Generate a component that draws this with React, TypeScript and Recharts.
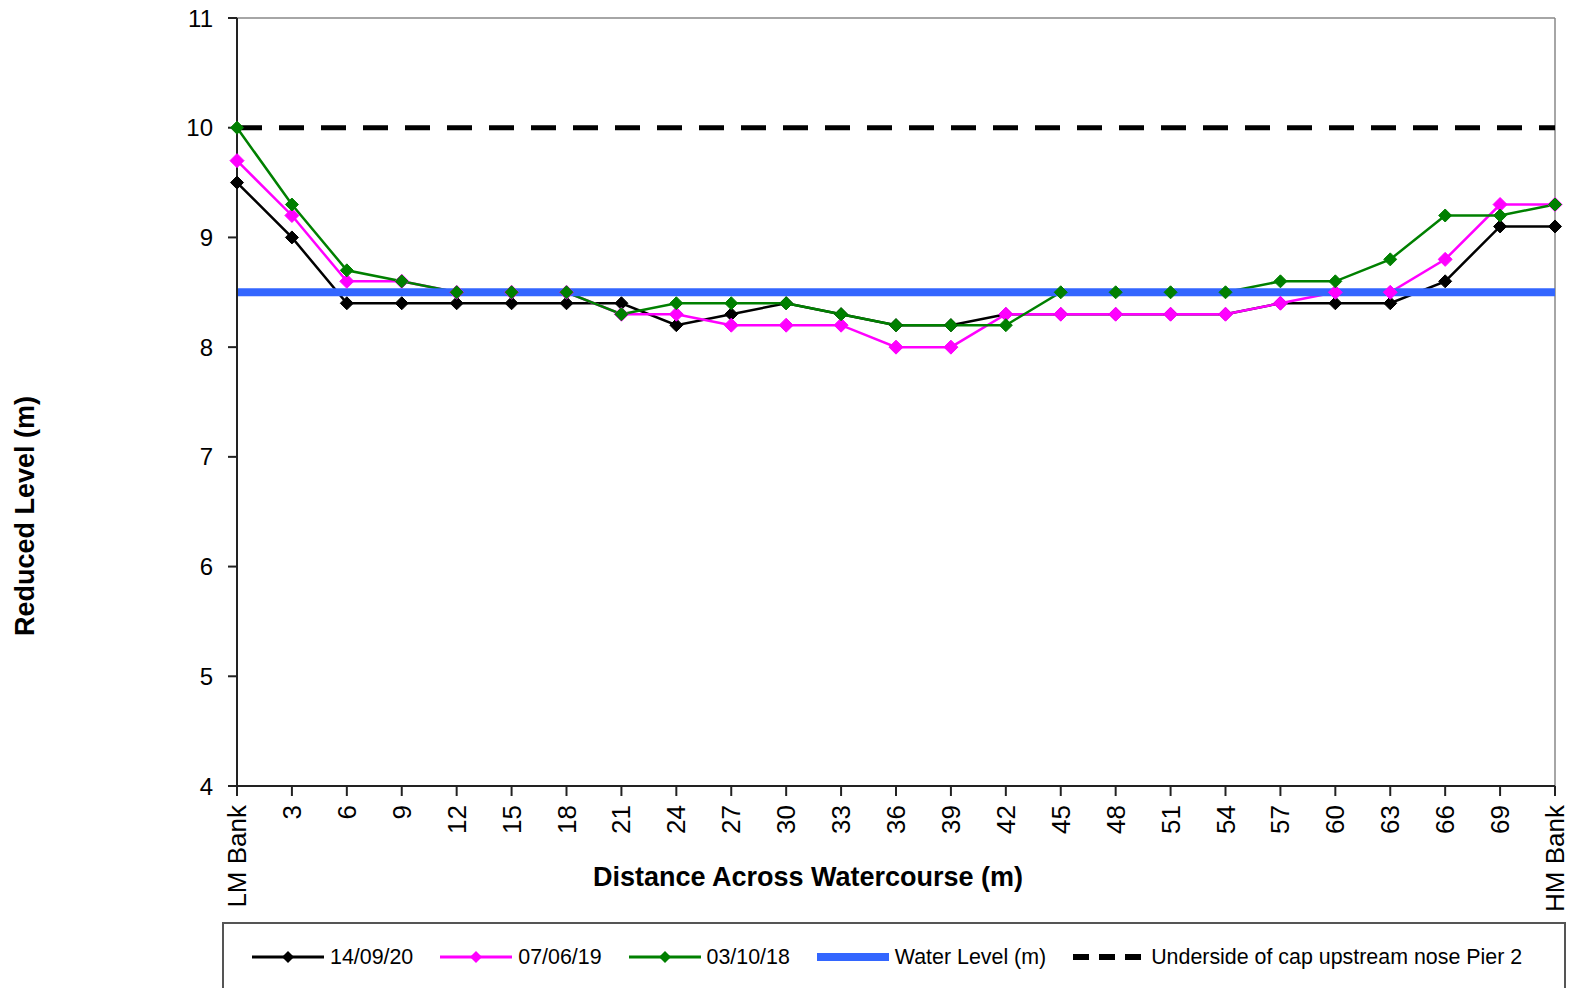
import { LineChart, Line, XAxis, YAxis, ReferenceLine, Label } from "recharts";

const labels = ["LM Bank", "3", "6", "9", "12", "15", "18", "21", "24", "27", "30", "33", "36", "39", "42", "45", "48", "51", "54", "57", "60", "63", "66", "69", "HM Bank"];
const survey2020 = [9.5, 9.0, 8.4, 8.4, 8.4, 8.4, 8.4, 8.4, 8.2, 8.3, 8.4, 8.3, 8.2, 8.2, 8.3, 8.3, 8.3, 8.3, 8.3, 8.4, 8.4, 8.4, 8.6, 9.1, 9.1];
const survey2019 = [9.7, 9.2, 8.6, 8.6, 8.5, 8.5, 8.5, 8.3, 8.3, 8.2, 8.2, 8.2, 8.0, 8.0, 8.3, 8.3, 8.3, 8.3, 8.3, 8.4, 8.5, 8.5, 8.8, 9.3, 9.3];
const survey2018 = [10.0, 9.3, 8.7, 8.6, 8.5, 8.5, 8.5, 8.3, 8.4, 8.4, 8.4, 8.3, 8.2, 8.2, 8.2, 8.5, 8.5, 8.5, 8.5, 8.6, 8.6, 8.8, 9.2, 9.2, 9.3];
const waterLevel = 8.5;
const capUnderside = 10.0;
const yTicks = [4, 5, 6, 7, 8, 9, 10, 11];

const data = labels.map((label, i) => ({
  label,
  s2020: survey2020[i],
  s2019: survey2019[i],
  s2018: survey2018[i],
  water: waterLevel,
  cap: capUnderside,
}));

const FONT = '"Liberation Sans", Arial, sans-serif';

function diamond(color: string, r = 7) {
  return (p: any) => {
    const { cx, cy, index } = p;
    if (cx == null || cy == null) return <g key={`${color}-${index}`} />;
    return (
      <polygon
        key={`${color}-${index}`}
        points={`${cx},${cy - r} ${cx + r},${cy} ${cx},${cy + r} ${cx - r},${cy}`}
        fill={color}
        stroke={color}
      />
    );
  };
}

function XTick({ x, y, payload }: any) {
  return (
    <text
      x={x}
      y={y}
      transform={`rotate(-90 ${x} ${y})`}
      textAnchor="end"
      dominantBaseline="central"
      fontSize={26}
      fontFamily={FONT}
      fill="#000"
    >
      {payload.value}
    </text>
  );
}

function LegendLine({ color, width = 3, dash, marker = true }: { color: string; width?: number; dash?: string; marker?: boolean }) {
  return (
    <svg width={72} height={20} style={{ display: "block" }}>
      <line x1={0} y1={10} x2={72} y2={10} stroke={color} strokeWidth={width} strokeDasharray={dash} />
      {marker && <polygon points="36,4 42,10 36,16 30,10" fill={color} />}
    </svg>
  );
}

const legendItems = [
  { name: "14/09/20", el: <LegendLine color="#000000" /> },
  { name: "07/06/19", el: <LegendLine color="#FF00FF" /> },
  { name: "03/10/18", el: <LegendLine color="#008000" /> },
  { name: "Water Level (m)", el: <LegendLine color="#3366FF" width={8} marker={false} /> },
  { name: "Underside of cap upstream nose Pier 2", el: <LegendLine color="#000000" width={6} dash="16 10" marker={false} /> },
];

export default function App() {
  return (
    <div style={{ position: "absolute", left: 0, top: 0, width: 1571, height: 988, background: "#fff", fontFamily: FONT, overflow: "hidden" }}>
      <LineChart width={1571} height={988} data={data} margin={{ top: 18, right: 16, left: 177, bottom: 0 }}>
        <XAxis
          dataKey="label"
          height={202}
          interval={0}
          tick={<XTick />}
          tickSize={10}
          tickMargin={9}
          axisLine={{ stroke: "#222", strokeWidth: 2 }}
          tickLine={{ stroke: "#222", strokeWidth: 2 }}
        >
          <Label
            content={() => (
              <text x={808} y={877} textAnchor="middle" dominantBaseline="central" fontSize={27} fontWeight="bold" fontFamily={FONT} fill="#000">
                Distance Across Watercourse (m)
              </text>
            )}
          />
        </XAxis>
        <YAxis
          domain={[4, 11]}
          ticks={yTicks}
          width={60}
          tickSize={9}
          tickMargin={15}
          tick={{ fontSize: 24, fill: "#000", fontFamily: FONT }}
          axisLine={{ stroke: "#222", strokeWidth: 2 }}
          tickLine={{ stroke: "#222", strokeWidth: 2 }}
        >
          <Label
            content={() => (
              <text x={25} y={516} transform="rotate(-90 25 516)" textAnchor="middle" dominantBaseline="central" fontSize={27} fontWeight="bold" fontFamily={FONT} fill="#000">
                Reduced Level (m)
              </text>
            )}
          />
        </YAxis>
        <ReferenceLine y={11} stroke="#888" strokeWidth={1.5} />
        <ReferenceLine x="HM Bank" stroke="#888" strokeWidth={1.5} />
        <Line dataKey="s2020" name="14/09/20" stroke="#000000" strokeWidth={2.5} dot={diamond("#000000", 6.5)} isAnimationActive={false} />
        <Line dataKey="s2019" name="07/06/19" stroke="#FF00FF" strokeWidth={2.5} dot={diamond("#FF00FF", 7)} isAnimationActive={false} />
        <Line dataKey="s2018" name="03/10/18" stroke="#008000" strokeWidth={2.5} dot={diamond("#008000", 6.5)} isAnimationActive={false} />
        <Line dataKey="water" name="Water Level (m)" stroke="#3366FF" strokeWidth={8} dot={false} isAnimationActive={false} />
        <Line dataKey="cap" name="Underside of cap upstream nose Pier 2" stroke="#000000" strokeWidth={5} strokeDasharray="25 17" dot={false} isAnimationActive={false} />
      </LineChart>
      <div
        style={{
          position: "absolute",
          left: 222,
          top: 922,
          width: 1344,
          height: 90,
          border: "2px solid #555",
          boxSizing: "border-box",
          display: "flex",
          alignItems: "flex-start",
          paddingLeft: 28,
          paddingTop: 21,
          gap: 27,
        }}
      >
        {legendItems.map((it) => (
          <div key={it.name} style={{ display: "flex", alignItems: "center", gap: 6, fontSize: 21.4, lineHeight: "24px", whiteSpace: "nowrap" }}>
            {it.el}
            <span>{it.name}</span>
          </div>
        ))}
      </div>
    </div>
  );
}
